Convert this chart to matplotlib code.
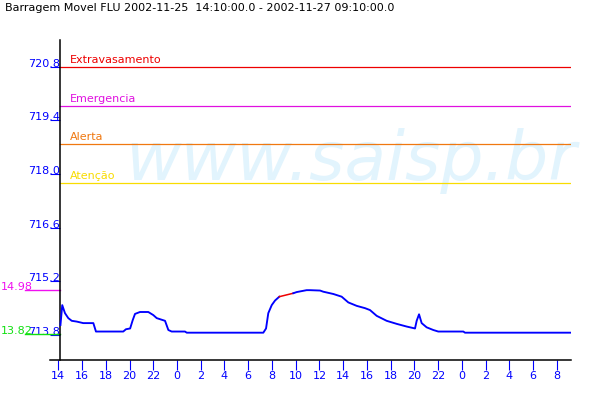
import matplotlib
matplotlib.use("Agg")
import matplotlib.pyplot as plt
import matplotlib.transforms as mtransforms

# ---- data (hours counted from 2002-11-25 00:00) ----
title = "Barragem Movel FLU 2002-11-25  14:10:00.0 - 2002-11-27 09:10:00.0"
start_h = 14 + 10 / 60
end_h = 48 + 9 + 10 / 60

hours = [14.18, 14.33, 14.56, 14.84, 15.13, 15.55, 16.10, 16.95, 17.17, 19.47,
         19.70, 20.05, 20.27, 20.46, 20.88, 21.58, 22.00, 22.29, 22.99, 23.27,
         23.55, 24.67, 24.82, 31.27, 31.50, 31.69, 31.98, 32.26, 32.62,
         33.80, 34.08, 34.92, 35.20, 36.05, 36.32, 37.17, 37.87, 38.43, 39.14,
         39.84, 40.26, 40.82, 41.66, 42.51, 43.35, 44.05, 44.19, 44.39, 44.61,
         45.03, 45.59, 46.01, 48.12, 48.26, 57.17]
levels = [714.06, 714.58, 714.37, 714.24, 714.17, 714.15, 714.11, 714.11, 713.89, 713.89,
          713.95, 713.97, 714.19, 714.35, 714.40, 714.40, 714.32, 714.24, 714.17, 713.93,
          713.89, 713.89, 713.86, 713.86, 713.97, 714.37, 714.58, 714.70, 714.80,
          714.89, 714.92, 714.97, 714.97, 714.96, 714.93, 714.87, 714.80, 714.65, 714.56,
          714.50, 714.45, 714.30, 714.17, 714.09, 714.02, 713.97, 714.17, 714.34, 714.11,
          714.00, 713.93, 713.89, 713.89, 713.86, 713.86]
gap_index = 28  # segment hours[28]..hours[29] is drawn in red (no data)

thr_names = ["Extravasamento", "Emergencia", "Alerta", "Atenção"]
thr_values = [720.8, 719.78, 718.78, 717.76]
thr_colors = ["#ee0000", "#e010e0", "#f07810", "#f8dc00"]

max_label, max_value = "14.98", 714.98
min_label, min_value = "13.82", 713.82

ytick_values = [713.8, 715.2, 716.6, 718.0, 719.4, 720.8]
ytick_labels = ["713.8", "715.2", "716.6", "718.0", "719.4", "720.8"]
xtick_hours = list(range(14, 58, 2))
xtick_labels = [str(h % 24) for h in xtick_hours]

BLUE = "#0000ff"

fig = plt.figure(figsize=(6, 4), dpi=100)
fig.patch.set_facecolor("white")
ax = fig.add_axes([50 / 600, 0.1, (570.7 - 50) / 600, 0.8])
ax.set_facecolor("none")
ax.set_xlim(start_h - 10.3 / 11.87, end_h)
ax.set_ylim(713.147, 721.50)

# watermark
ax.text(351 / 600, 1 - 180 / 400, "www.saisp.br", transform=fig.transFigure,
        ha="center", va="baseline", fontsize=49, style="italic",
        color="#e2f4fd", zorder=0.5, clip_on=False)

for s in ["top", "right"]:
    ax.spines[s].set_visible(False)
ax.spines["left"].set_position(("data", start_h))
ax.spines["left"].set_color("black")
ax.spines["bottom"].set_color("black")
ax.spines["left"].set_linewidth(1.1)
ax.spines["bottom"].set_linewidth(1.1)

# thresholds
for name, val, col in zip(thr_names, thr_values, thr_colors):
    ax.plot([start_h, end_h], [val, val], color=col, lw=0.9, zorder=2)
    ax.annotate(name, xy=(start_h, val), xytext=(7, 3), textcoords="offset points",
                ha="left", va="baseline", color=col, fontsize=8)

# data line
ax.plot(hours[:gap_index + 1], levels[:gap_index + 1], color=BLUE, lw=1.35, zorder=3)
ax.plot(hours[gap_index:gap_index + 2], levels[gap_index:gap_index + 2], color="#ee0000",
        lw=1.1, zorder=3)
ax.plot(hours[gap_index + 1:], levels[gap_index + 1:], color=BLUE, lw=1.35, zorder=3)

# max / min markers
blend = mtransforms.blended_transform_factory(fig.transFigure, ax.transData)
ax.plot([25 / 600, 60.3 / 600], [max_value, max_value], color="#f010f0", lw=1.0,
        transform=blend, clip_on=False, zorder=2)
ax.plot([25 / 600, 60.3 / 600], [min_value, min_value], color="#10e010", lw=1.0,
        transform=blend, clip_on=False, zorder=2)
ax.text(0.5 / 600, max_value, max_label, transform=blend, color="#f010f0", fontsize=8,
        ha="left", va="baseline", zorder=1)
ax.text(0.5 / 600, min_value, min_label, transform=blend, color="#10e010", fontsize=8,
        ha="left", va="baseline", zorder=1)

# ticks
ax.set_yticks(ytick_values)
ax.set_yticklabels(ytick_labels)
ax.tick_params(axis="y", colors=BLUE, length=7.2, width=0.8, pad=-7.2, labelsize=8)
for t in ax.get_yticklabels():
    t.set_verticalalignment("baseline")
ax.set_xticks(xtick_hours)
ax.set_xticklabels(xtick_labels)
ax.tick_params(axis="x", colors=BLUE, length=7.2, width=0.8, pad=0.5, labelsize=8)

fig.text(5 / 600, 1 - 11 / 400, title, ha="left", va="baseline", fontsize=8, color="black")

fig.savefig("out.png", dpi=100)
